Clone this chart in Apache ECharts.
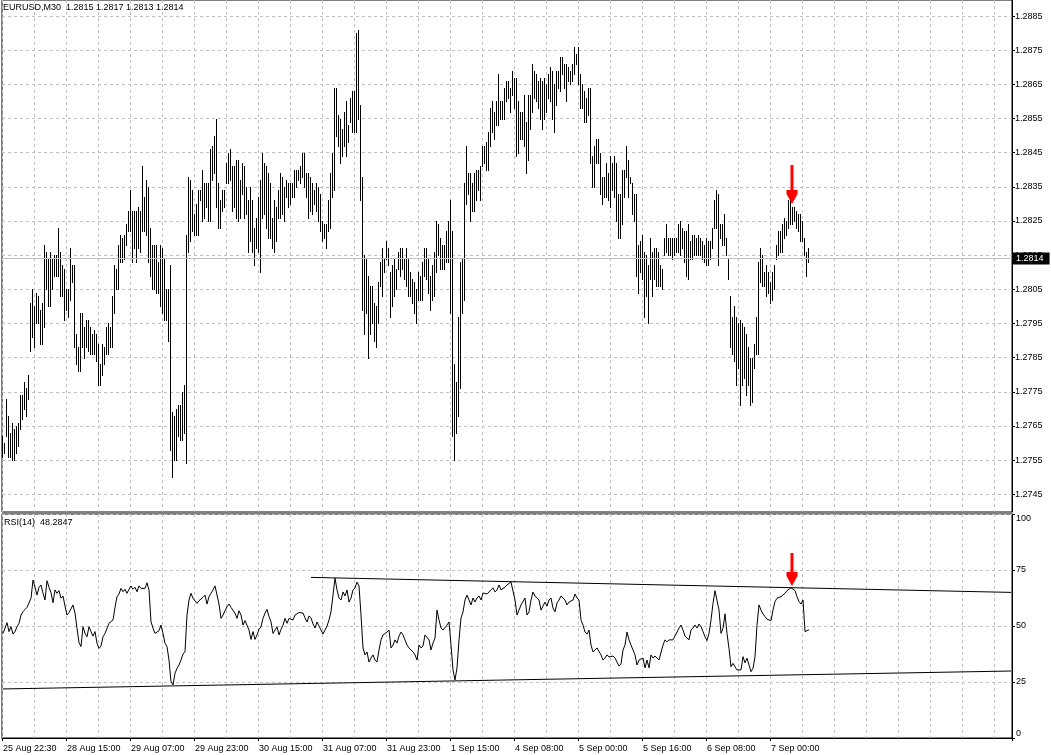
<!DOCTYPE html>
<html><head><meta charset="utf-8">
<script src="https://cdn.jsdelivr.net/npm/echarts@6/dist/echarts.min.js"></script>
<style>html,body{margin:0;padding:0;background:#fff}#c{width:1051px;height:755px}</style>
</head><body><div id="c"></div>
<script>
const symbolName = 'EURUSD,M30';
const lastBar = { open: 1.2815, high: 1.2817, low: 1.2813, close: 1.2814 };
const rsiName = 'RSI(14)';
const xTickLabels = ['25 Aug 22:30','28 Aug 15:00','29 Aug 07:00','29 Aug 23:00','30 Aug 15:00','31 Aug 07:00','31 Aug 23:00','1 Sep 15:00','4 Sep 08:00','5 Sep 00:00','5 Sep 16:00','6 Sep 08:00','7 Sep 00:00'];
const priceTicks = [1.2745,1.2755,1.2765,1.2775,1.2785,1.2795,1.2805,1.2815,1.2825,1.2835,1.2845,1.2855,1.2865,1.2875,1.2885];
const rsiTicks = [0,25,50,75,100];

const highs = [
1.2762,1.2760,1.2773,1.2768,1.2763,1.2766,1.2764,1.2765,1.2766,1.2774,
1.2774,1.2778,1.2776,1.2780,1.2801,1.2805,1.2800,1.2804,1.2803,1.2799,
1.2801,1.2818,1.2816,1.2814,1.2816,1.2814,1.2815,1.2815,1.2823,1.2816,
1.2812,1.2811,1.2805,1.2805,1.2817,1.2812,1.2812,1.2792,1.2788,1.2798,
1.2798,1.2794,1.2796,1.2796,1.2794,1.2792,1.2793,1.2792,1.2789,1.2783,
1.2789,1.2788,1.2794,1.2795,1.2794,1.2803,1.2812,1.2811,1.2818,1.2821,
1.2820,1.2821,1.2824,1.2828,1.2834,1.2828,1.2828,1.2828,1.2829,1.2828,
1.2841,1.2832,1.2837,1.2835,1.2823,1.2818,1.2818,1.2818,1.2813,1.2818,
1.2817,1.2814,1.2805,1.2805,1.2812,1.2769,1.2768,1.2770,1.2771,1.2771,
1.2775,1.2777,1.2821,1.2838,1.2837,1.2834,1.2827,1.2830,1.2834,1.2834,
1.2840,1.2836,1.2836,1.2836,1.2846,1.2847,1.2850,1.2855,1.2836,1.2831,
1.2834,1.2834,1.2842,1.2845,1.2846,1.2841,1.2841,1.2843,1.2843,1.2837,
1.2842,1.2841,1.2835,1.2831,1.2835,1.2831,1.2823,1.2826,1.2832,1.2837,
1.2845,1.2842,1.2841,1.2839,1.2836,1.2826,1.2831,1.2829,1.2834,1.2839,
1.2838,1.2835,1.2837,1.2836,1.2836,1.2836,1.2840,1.2840,1.2840,1.2841,
1.2845,1.2845,1.2839,1.2839,1.2838,1.2836,1.2834,1.2836,1.2835,1.2833,
1.2825,1.2824,1.2824,1.2831,1.2839,1.2845,1.2864,1.2864,1.2856,1.2855,
1.2852,1.2857,1.2860,1.2853,1.2861,1.2863,1.2863,1.2880,1.2881,1.2859,
1.2838,1.2815,1.2814,1.2809,1.2806,1.2806,1.2801,1.2800,1.2807,1.2813,
1.2817,1.2814,1.2819,1.2817,1.2810,1.2812,1.2814,1.2811,1.2816,1.2817,
1.2817,1.2814,1.2817,1.2814,1.2810,1.2808,1.2807,1.2805,1.2810,1.2809,
1.2813,1.2817,1.2817,1.2814,1.2809,1.2812,1.2816,1.2825,1.2824,1.2820,
1.2818,1.2818,1.2822,1.2825,1.2831,1.2822,1.2783,1.2778,1.2797,1.2813,
1.2814,1.2836,1.2847,1.2839,1.2839,1.2836,1.2839,1.2840,1.2840,1.2841,
1.2847,1.2847,1.2848,1.2851,1.2858,1.2860,1.2857,1.2860,1.2868,1.2860,
1.2860,1.2864,1.2866,1.2866,1.2864,1.2869,1.2867,1.2867,1.2860,1.2857,
1.2857,1.2862,1.2854,1.2862,1.2862,1.2871,1.2869,1.2868,1.2866,1.2867,
1.2866,1.2867,1.2865,1.2868,1.2870,1.2869,1.2865,1.2869,1.2869,1.2873,
1.2873,1.2871,1.2871,1.2870,1.2869,1.2871,1.2876,1.2874,1.2876,1.2868,
1.2865,1.2863,1.2861,1.2864,1.2864,1.2844,1.2847,1.2849,1.2849,1.2845,
1.2838,1.2838,1.2842,1.2839,1.2844,1.2842,1.2844,1.2842,1.2833,1.2833,
1.2840,1.2840,1.2847,1.2843,1.2838,1.2836,1.2833,1.2833,1.2818,1.2819,
1.2821,1.2816,1.2815,1.2812,1.2820,1.2816,1.2817,1.2817,1.2816,1.2812,
1.2811,1.2820,1.2824,1.2820,1.2820,1.2820,1.2820,1.2820,1.2824,1.2825,
1.2823,1.2822,1.2822,1.2824,1.2819,1.2821,1.2821,1.2820,1.2821,1.2820,
1.2819,1.2818,1.2820,1.2819,1.2819,1.2823,1.2831,1.2834,1.2833,1.2824,
1.2824,1.2827,1.2820,1.2814,1.2803,1.2797,1.2800,1.2797,1.2795,1.2796,
1.2795,1.2794,1.2792,1.2788,1.2785,1.2785,1.2789,1.2797,1.2813,1.2817,
1.2815,1.2810,1.2812,1.2810,1.2807,1.2810,1.2812,1.2818,1.2822,1.2822,
1.2824,1.2826,1.2825,1.2831,1.2831,1.2829,1.2829,1.2828,1.2827,1.2827,
1.2825,1.2820,1.2816,1.2817];

const lows = [
1.2756,1.2757,1.2762,1.2756,1.2756,1.2755,1.2755,1.2757,1.2759,1.2764,
1.2767,1.2770,1.2768,1.2773,1.2787,1.2791,1.2788,1.2795,1.2795,1.2789,
1.2789,1.2794,1.2805,1.2800,1.2800,1.2805,1.2809,1.2809,1.2809,1.2803,
1.2803,1.2796,1.2799,1.2797,1.2802,1.2807,1.2788,1.2783,1.2781,1.2781,
1.2788,1.2785,1.2788,1.2787,1.2786,1.2786,1.2786,1.2784,1.2777,1.2777,
1.2780,1.2783,1.2786,1.2786,1.2788,1.2788,1.2798,1.2805,1.2805,1.2813,
1.2813,1.2814,1.2818,1.2822,1.2822,1.2813,1.2817,1.2813,1.2817,1.2816,
1.2822,1.2822,1.2821,1.2813,1.2809,1.2805,1.2805,1.2804,1.2804,1.2800,
1.2798,1.2796,1.2796,1.2790,1.2758,1.2750,1.2755,1.2755,1.2762,1.2761,
1.2761,1.2763,1.2754,1.2816,1.2819,1.2822,1.2821,1.2821,1.2821,1.2831,
1.2825,1.2826,1.2829,1.2825,1.2825,1.2837,1.2839,1.2829,1.2823,1.2823,
1.2828,1.2829,1.2836,1.2836,1.2837,1.2828,1.2829,1.2826,1.2825,1.2826,
1.2833,1.2826,1.2827,1.2816,1.2819,1.2816,1.2812,1.2817,1.2816,1.2810,
1.2826,1.2827,1.2823,1.2820,1.2820,1.2817,1.2816,1.2819,1.2826,1.2826,
1.2827,1.2825,1.2832,1.2829,1.2830,1.2832,1.2832,1.2835,1.2837,1.2836,
1.2838,1.2835,1.2832,1.2826,1.2828,1.2827,1.2830,1.2828,1.2825,1.2822,
1.2819,1.2820,1.2817,1.2822,1.2823,1.2832,1.2834,1.2850,1.2847,1.2842,
1.2844,1.2847,1.2844,1.2848,1.2854,1.2851,1.2851,1.2851,1.2855,1.2831,
1.2799,1.2792,1.2798,1.2785,1.2792,1.2795,1.2790,1.2788,1.2795,1.2806,
1.2803,1.2810,1.2814,1.2812,1.2797,1.2800,1.2803,1.2805,1.2811,1.2809,
1.2811,1.2808,1.2806,1.2803,1.2803,1.2801,1.2798,1.2795,1.2802,1.2802,
1.2802,1.2809,1.2808,1.2804,1.2799,1.2802,1.2803,1.2810,1.2815,1.2811,
1.2811,1.2811,1.2813,1.2813,1.2798,1.2762,1.2755,1.2763,1.2768,1.2776,
1.2798,1.2802,1.2830,1.2833,1.2825,1.2828,1.2828,1.2831,1.2834,1.2831,
1.2841,1.2842,1.2840,1.2840,1.2847,1.2851,1.2849,1.2853,1.2853,1.2855,
1.2855,1.2855,1.2860,1.2861,1.2857,1.2862,1.2858,1.2844,1.2845,1.2849,
1.2849,1.2847,1.2839,1.2843,1.2852,1.2857,1.2861,1.2860,1.2858,1.2855,
1.2852,1.2855,1.2857,1.2861,1.2860,1.2855,1.2851,1.2859,1.2864,1.2863,
1.2868,1.2864,1.2860,1.2866,1.2865,1.2866,1.2868,1.2871,1.2865,1.2858,
1.2858,1.2854,1.2854,1.2856,1.2842,1.2835,1.2835,1.2842,1.2842,1.2833,
1.2830,1.2832,1.2832,1.2831,1.2829,1.2834,1.2832,1.2825,1.2820,1.2820,
1.2824,1.2832,1.2838,1.2832,1.2836,1.2827,1.2825,1.2809,1.2804,1.2810,
1.2808,1.2797,1.2803,1.2795,1.2808,1.2803,1.2808,1.2806,1.2806,1.2806,
1.2805,1.2815,1.2816,1.2815,1.2815,1.2814,1.2815,1.2816,1.2816,1.2815,
1.2817,1.2813,1.2809,1.2808,1.2814,1.2814,1.2815,1.2815,1.2815,1.2815,
1.2814,1.2813,1.2812,1.2812,1.2814,1.2817,1.2823,1.2823,1.2812,1.2820,
1.2818,1.2818,1.2815,1.2808,1.2788,1.2786,1.2784,1.2777,1.2782,1.2771,
1.2777,1.2779,1.2774,1.2777,1.2771,1.2772,1.2782,1.2786,1.2786,1.2807,
1.2806,1.2806,1.2803,1.2804,1.2801,1.2802,1.2805,1.2814,1.2815,1.2816,
1.2816,1.2820,1.2821,1.2823,1.2824,1.2824,1.2825,1.2823,1.2822,1.2819,
1.2819,1.2815,1.2809,1.2813];

const rsi = [
46.7,49.0,51.5,47.5,49.7,46.4,47.5,49.7,51.2,54.9,
56.4,57.4,58.3,58.6,62.4,70.5,67.3,63.8,67.3,68.3,
64.6,61.6,70.2,67.3,64.9,60.4,66.1,64.6,65.8,62.4,
63.4,58.9,54.9,56.0,56.8,59.4,55.7,49.0,42.6,40.8,
49.7,46.7,45.2,49.7,47.5,45.5,47.5,42.3,40.0,41.1,
45.2,46.7,47.5,51.2,51.5,52.7,58.3,63.1,64.3,66.8,
65.3,66.4,64.6,66.4,67.9,66.4,67.3,65.3,67.9,66.8,
67.6,66.8,69.3,66.1,51.9,49.0,46.7,46.0,47.9,50.4,
46.7,42.3,40.8,34.8,25.1,23.7,28.9,31.1,32.6,34.8,
37.5,38.5,54.9,61.6,64.6,62.4,61.6,60.1,61.3,61.9,
62.8,63.8,59.8,63.1,64.6,66.1,67.9,67.3,59.8,53.4,
54.9,56.8,58.6,59.8,58.3,58.6,55.7,53.4,56.8,54.9,
50.4,52.4,52.7,48.2,44.0,47.5,44.0,46.0,48.5,49.7,
53.4,55.7,57.4,54.2,51.9,46.7,46.0,49.7,46.0,48.5,
50.4,53.4,51.2,53.4,54.2,52.7,54.9,55.7,56.0,56.0,
55.8,53.6,51.8,54.5,53.6,50.9,49.1,51.8,50.0,48.2,
46.4,48.2,50.0,52.7,56.3,63.8,71.4,66.1,62.5,61.6,
65.2,63.4,66.1,60.7,62.5,66.1,67.0,69.6,67.9,54.9,
40.2,37.1,38.4,33.9,35.7,37.1,34.8,33.9,39.3,43.8,
46.0,46.0,47.3,48.2,40.2,41.5,43.8,42.4,45.5,47.3,
46.0,43.8,41.5,40.2,39.3,38.4,37.1,34.8,41.5,40.2,
41.1,46.0,46.0,43.8,39.3,42.4,44.6,57.1,52.7,49.1,
48.2,48.2,50.4,51.8,41.5,30.4,25.9,31.3,43.8,53.6,
56.3,61.6,63.8,61.6,59.4,62.5,60.7,62.5,63.4,61.6,
64.7,65.2,64.3,65.2,66.1,67.0,65.2,66.1,68.3,66.1,
66.1,67.4,68.3,68.3,69.6,69.6,61.6,54.9,57.1,59.4,
59.4,62.5,54.9,56.3,61.6,65.2,63.4,62.5,61.6,57.1,
58.9,60.7,58.9,61.6,62.5,58.0,56.3,60.3,61.6,63.4,
62.5,61.6,59.4,60.7,60.3,61.6,64.3,62.5,61.6,52.7,
50.4,47.3,46.4,48.2,41.5,38.4,39.3,40.2,40.2,37.1,
34.8,35.7,37.1,36.2,35.7,36.6,35.7,33.9,32.1,33.0,
39.3,41.5,47.3,43.8,41.5,39.3,37.1,32.6,34.8,34.8,
35.7,31.3,34.8,31.3,37.1,35.7,36.6,36.6,34.8,34.8,
41.5,43.8,42.9,43.8,44.6,43.8,44.6,47.3,49.1,50.4,
48.2,45.5,46.0,43.8,48.2,49.1,50.4,49.1,50.9,49.7,
47.5,45.2,43.5,46.7,52.7,60.1,65.8,66.4,57.1,46.7,
49.0,55.4,46.7,40.0,31.8,33.3,31.8,30.4,29.6,30.4,
36.3,33.6,35.6,32.6,29.6,31.1,36.3,50.4,59.4,57.1,
55.4,54.2,53.0,52.4,52.4,57.1,60.9,62.4,62.8,63.1,
63.8,64.6,65.8,66.4,67.1,66.4,65.8,63.1,60.9,59.8,
61.6,47.5,47.9,48.2847];

const rsiUpperTrend = [[154, 71.7], [504, 65.0]];
const rsiLowerTrend = [[0, 21.9], [504, 29.9]];
const priceArrow = [[394, 1.2830]];
const rsiArrow = [[394, 68.0]];

const slotCount = 505; // bar slots across the plot width (incl. empty right margin)
const slots = Array.from({ length: slotCount }, (_, i) => String(i));

const FONT = 'Liberation Sans';
const dash = { color: '#c0c0c0', type: [3, 3], width: 1 };
const f4 = v => v.toFixed(4);

function arrowRender(shaft) {
  return function (params, api) {
    const p = api.coord([api.value(0), api.value(1)]);
    const tx = Math.round(p[0]) + 1, ty = Math.round(p[1]);
    return {
      type: 'polygon',
      shape: { points: [
        [tx - 1.5, ty - shaft], [tx + 1.5, ty - shaft], [tx + 1.5, ty - 14],
        [tx + 5.5, ty - 14], [tx + 5.5, ty - 10], [tx, ty],
        [tx - 5.5, ty - 10], [tx - 5.5, ty - 14], [tx - 1.5, ty - 14]
      ] },
      style: { fill: '#ff0000' }
    };
  };
}

const chart = echarts.init(document.getElementById('c'), null, { renderer: 'canvas' });
chart.setOption({
  animation: false,
  backgroundColor: '#ffffff',
  textStyle: { fontFamily: FONT },
  title: [
    { text: `${symbolName}  ${f4(lastBar.open)} ${f4(lastBar.high)} ${f4(lastBar.low)} ${f4(lastBar.close)}`,
      left: 3, top: 3, padding: 0,
      textStyle: { fontSize: 9, fontWeight: 'normal', color: '#000', fontFamily: FONT } },
    { text: `${rsiName}  ${rsi[rsi.length - 1].toFixed(4)}`,
      left: 4, top: 518, padding: 0,
      textStyle: { fontSize: 9, fontWeight: 'normal', color: '#000', fontFamily: FONT } }
  ],
  grid: [
    { left: 2, right: 39, top: 0, height: 512, show: true, borderColor: '#000', borderWidth: 1, backgroundColor: 'transparent' },
    { left: 2, right: 39, top: 514, height: 224, show: true, borderColor: '#000', borderWidth: 1, backgroundColor: 'transparent' }
  ],
  xAxis: [
    { type: 'category', gridIndex: 0, data: slots, boundaryGap: true,
      axisLine: { show: false }, axisTick: { show: false }, axisLabel: { show: false },
      splitLine: { show: true, interval: (i) => i % 16 === 0, lineStyle: dash } },
    { type: 'category', gridIndex: 1, data: slots, boundaryGap: true,
      axisLine: { show: true, lineStyle: { color: '#000', width: 1 } },
      axisTick: { show: true, interval: (i) => i % 32 === 0 && i / 32 < xTickLabels.length, length: 3, lineStyle: { color: '#000' } },
      axisLabel: { show: true, interval: (i) => i % 32 === 0 && i / 32 < xTickLabels.length,
        formatter: (v, i) => xTickLabels[Math.round(i / 32)] || '',
        align: 'left', margin: 6, fontSize: 9, color: '#000', fontFamily: FONT },
      splitLine: { show: true, interval: (i) => i % 16 === 0, lineStyle: dash } }
  ],
  yAxis: [
    { type: 'value', gridIndex: 0, position: 'right', min: 1.27398, max: 1.28897, scale: true,
      axisLine: { show: true, lineStyle: { color: '#000', width: 1 } },
      axisTick: { show: true, length: 3, customValues: priceTicks, lineStyle: { color: '#000' } },
      axisLabel: { show: true, customValues: priceTicks, formatter: v => f4(v), margin: 3, fontSize: 9, color: '#000', fontFamily: FONT },
      splitLine: { show: true, lineStyle: dash } },
    { type: 'value', gridIndex: 1, position: 'right', min: 0, max: 100, interval: 25,
      axisLine: { show: true, lineStyle: { color: '#000', width: 1 } },
      axisTick: { show: true, length: 3, lineStyle: { color: '#000' } },
      axisLabel: { show: true, customValues: rsiTicks, margin: 4, fontSize: 9, color: '#000', fontFamily: FONT,
        verticalAlignMaxLabel: 'top', verticalAlignMinLabel: 'bottom' },
      splitLine: { show: true, lineStyle: dash } }
  ],
  series: [
    { name: 'bars', type: 'custom', xAxisIndex: 0, yAxisIndex: 0,
      data: highs.map((h, i) => [i, h, lows[i]]),
      encode: { x: 0, y: [1, 2] },
      renderItem: function (params, api) {
        const top = api.coord([api.value(0), api.value(1)]);
        const bot = api.coord([api.value(0), api.value(2)]);
        const x = Math.round(top[0]) - 1;
        const y0 = Math.round(top[1]);
        const h = Math.max(1, Math.round(bot[1]) - y0 + 1);
        return { type: 'rect', shape: { x: x, y: y0, width: 1, height: h }, style: { fill: '#000' } };
      } },
    { name: 'last', type: 'line', xAxisIndex: 0, yAxisIndex: 0,
      data: [[highs.length - 1, lastBar.close]], showSymbol: false, lineStyle: { opacity: 0 },
      markLine: { silent: true, symbol: ['none', 'none'], precision: 4,
        lineStyle: { color: '#c0c0c0', type: 'solid', width: 1 },
        label: { show: true, position: 'end', distance: 1, formatter: () => f4(lastBar.close),
          backgroundColor: '#000', color: '#fff', padding: [2, 6, 1, 3], fontSize: 9, fontFamily: FONT },
        data: [{ yAxis: lastBar.close }] } },
    { name: 'priceArrow', type: 'custom', xAxisIndex: 0, yAxisIndex: 0, data: priceArrow,
      encode: { x: 0, y: 1 }, renderItem: arrowRender(39), z: 5 },
    { name: 'rsi', type: 'line', xAxisIndex: 1, yAxisIndex: 1, data: rsi, showSymbol: false,
      lineStyle: { color: '#000', width: 1 }, itemStyle: { color: '#000' } },
    { name: 'upper', type: 'line', xAxisIndex: 1, yAxisIndex: 1, data: rsiUpperTrend, showSymbol: false,
      lineStyle: { color: '#000', width: 1 } },
    { name: 'lower', type: 'line', xAxisIndex: 1, yAxisIndex: 1, data: rsiLowerTrend, showSymbol: false,
      lineStyle: { color: '#000', width: 1 } },
    { name: 'rsiArrow', type: 'custom', xAxisIndex: 1, yAxisIndex: 1, data: rsiArrow,
      encode: { x: 0, y: 1 }, renderItem: arrowRender(33), z: 5 }
  ]
});
</script>
</body></html>
